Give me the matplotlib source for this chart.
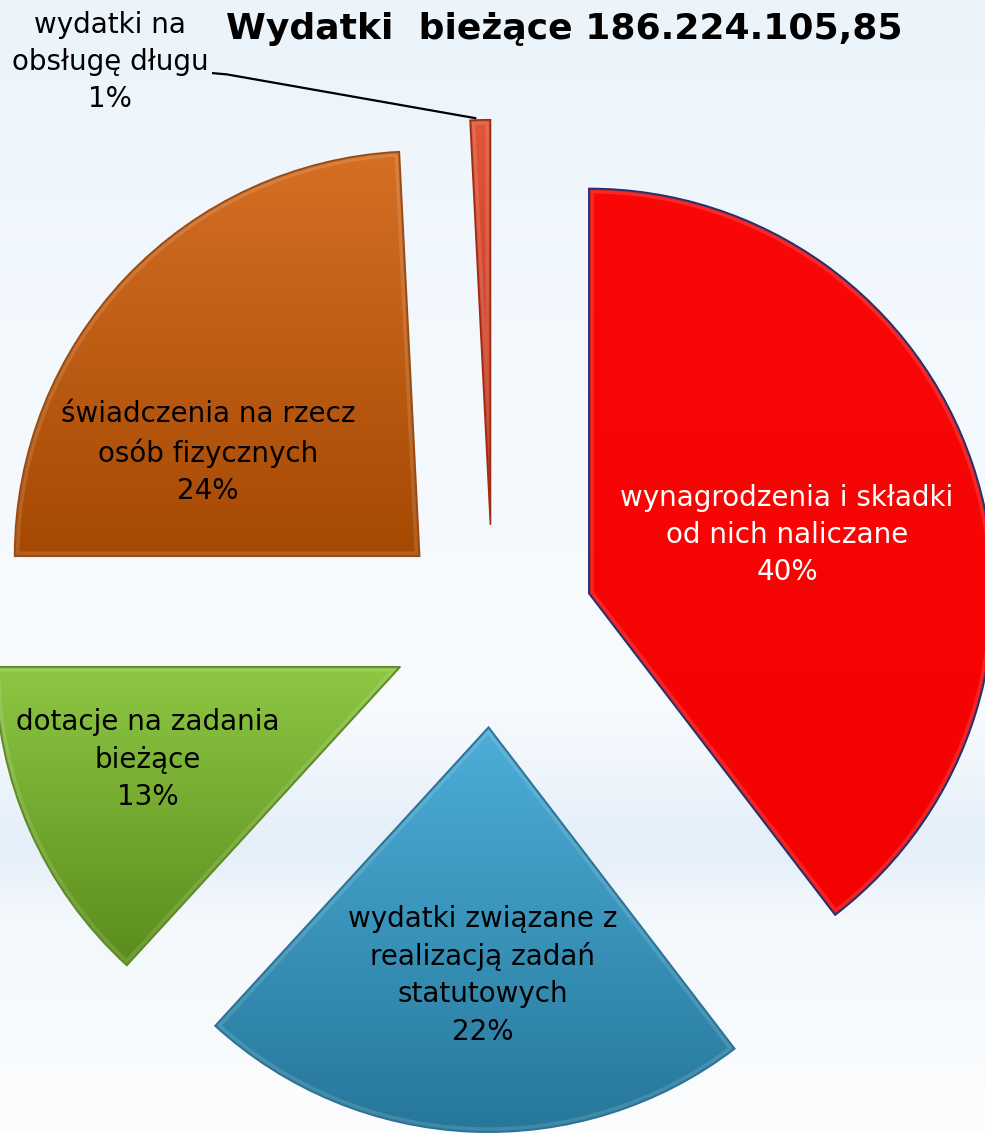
import numpy as np
import matplotlib
matplotlib.use("Agg")
import matplotlib.pyplot as plt
from matplotlib import patches
from matplotlib.colors import LinearSegmentedColormap

# data
categories = [
    "wynagrodzenia i składki\nod nich naliczane",
    "wydatki związane z\nrealizacją zadań\nstatutowych",
    "dotacje na zadania\nbieżące",
    "świadczenia na rzecz\nosób fizycznych",
    "wydatki na\nobsługę długu",
]
shares = [39.6, 22.2, 13.2, 24.2, 0.8]
title = "Wydatki  bieżące 186.224.105,85"

# styles
top_colors = ["#FA0808", "#4DAED8", "#8DC743", "#D66F24", "#E2553A"]
bottom_colors = ["#F40202", "#26779A", "#5A8C1C", "#A54903", "#BF3118"]
edge_colors = ["#22306E", "#2A7295", "#5E8A25", "#9A4A10", "#A12A12"]
text_colors = ["white", "black", "black", "black", "black"]
label_pos = [(0.726, 0.225), (-0.025, -0.862), (-0.852, -0.33), (-0.704, 0.428), (-0.946, 1.393)]

W, H = 985, 1133
cx, cy, R = 493, 626, 405  # pie centre / radius in pixels

fig = plt.figure(figsize=(W / 100, H / 100), dpi=100)

# background
bg = fig.add_axes([0, 0, 1, 1])
bg.axis("off")
bg_cmap = LinearSegmentedColormap.from_list("bg", [
    (0.0, "#EBF4FB"), (0.35, "#F4F9FD"), (0.62, "#F8FBFE"),
    (0.75, "#E4EFF9"), (0.81, "#F3F8FC"), (1.0, "#FCFDFE")])
bg.imshow(np.linspace(0, 1, 256).reshape(-1, 1), cmap=bg_cmap, aspect="auto",
          extent=[0, 1, 0, 1], origin="upper")
bg.set_xlim(0, 1)
bg.set_ylim(0, 1)

ax = fig.add_axes([0, 0, 1, 1])
ax.axis("off")
ax.patch.set_alpha(0)

wedges, _ = ax.pie(shares, startangle=90, counterclock=False,
                   explode=[0.25] * len(shares), radius=1,
                   colors=bottom_colors,
                   wedgeprops=dict(linewidth=0))

for i, w in enumerate(wedges):
    bb = w.get_path().get_extents()
    cmap = LinearSegmentedColormap.from_list("g%d" % i, [top_colors[i], bottom_colors[i]])
    im = ax.imshow(np.linspace(0, 1, 256).reshape(-1, 1), cmap=cmap, aspect="auto",
                   extent=[bb.x0, bb.x1, bb.y0, bb.y1], origin="upper", zorder=2)
    im.set_clip_path(w)
    # bevel highlight along the rim
    hl = patches.Wedge(w.center, w.r, w.theta1, w.theta2, fill=False,
                       edgecolor="white", linewidth=7, alpha=0.13, zorder=3)
    ax.add_patch(hl)
    hl.set_clip_path(w)
    inner = patches.Wedge(w.center, w.r, w.theta1, w.theta2, fill=False,
                          edgecolor=edge_colors[i], linewidth=2.2, alpha=0.5, zorder=3.5)
    ax.add_patch(inner)
    inner.set_clip_path(w)
    outline = patches.Wedge(w.center, w.r, w.theta1, w.theta2, fill=False,
                            edgecolor=edge_colors[i], linewidth=1.2, zorder=4)
    ax.add_patch(outline)

total = sum(shares)
for i, name in enumerate(categories):
    pct = "%.0f%%" % (shares[i] / total * 100)
    ax.text(label_pos[i][0], label_pos[i][1], name + "\n" + pct,
            ha="center", va="center", fontsize=20, color=text_colors[i],
            linespacing=1.42, zorder=6, family="DejaVu Sans")

# leader line for the small slice
ax.plot([-0.691, -0.657, -0.044], [1.365, 1.362, 1.254], color="black", lw=1.6, zorder=6)

ax.set_xlim((0 - cx) / R, (W - cx) / R)
ax.set_ylim((cy - H) / R, cy / R)
ax.set_aspect("auto")

fig.text(564 / W, 1 - 29 / H, title, ha="center", va="center",
         fontsize=26, fontweight="bold", color="black", family="DejaVu Sans")

fig.savefig("out.png", dpi=100)
